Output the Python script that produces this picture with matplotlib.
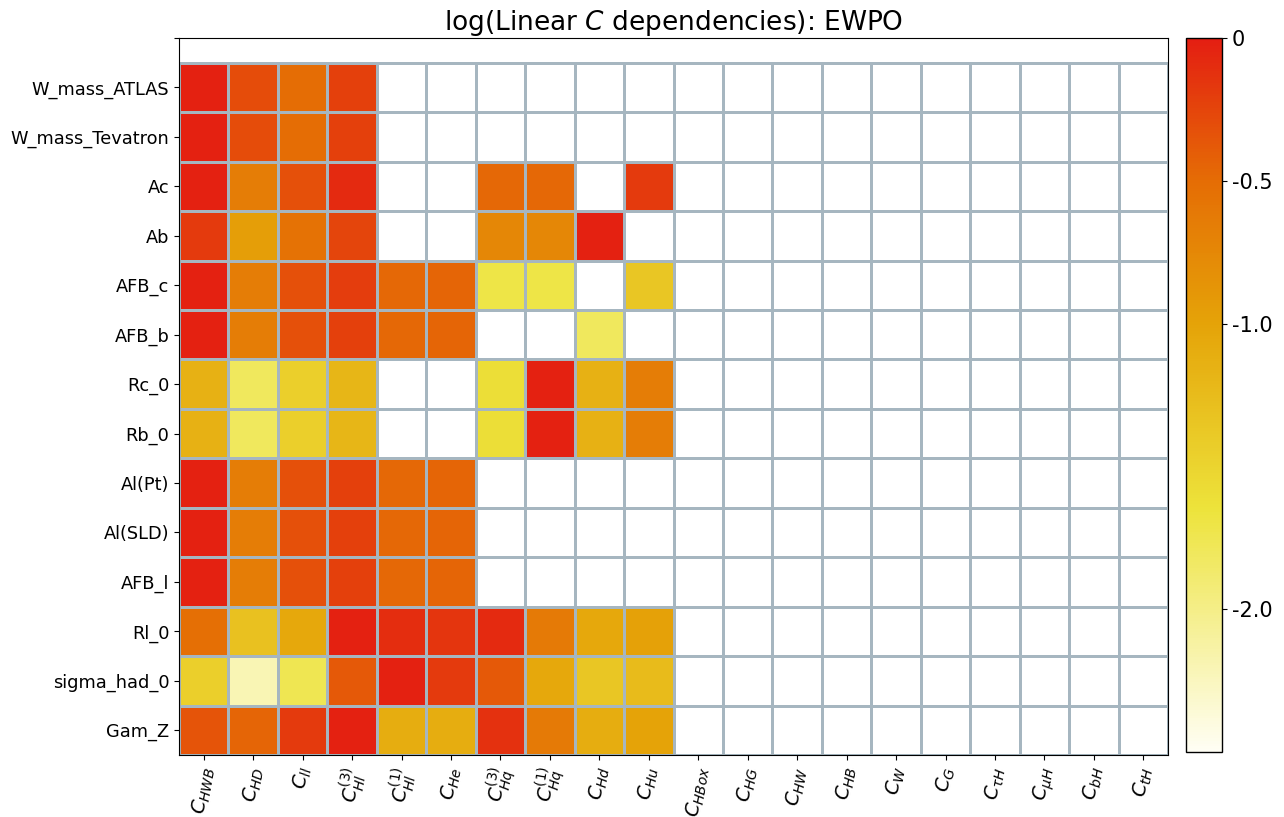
#!/usr/bin/python3

import numpy as np
import matplotlib
matplotlib.use('Agg')
import matplotlib.pyplot as plt
from matplotlib.colors import LinearSegmentedColormap

nan = np.nan

observables = ['W_mass_ATLAS', 'W_mass_Tevatron', 'Ac', 'Ab', 'AFB_c', 'AFB_b',
               'Rc_0', 'Rb_0', 'Al(Pt)', 'Al(SLD)', 'AFB_l', 'Rl_0',
               'sigma_had_0', 'Gam_Z']

coefficients = [r'$C_{HWB}$', r'$C_{HD}$', r'$C_{ll}$', r'$C_{Hl}^{(3)}$',
                r'$C_{Hl}^{(1)}$', r'$C_{He}$', r'$C_{Hq}^{(3)}$', r'$C_{Hq}^{(1)}$',
                r'$C_{Hd}$', r'$C_{Hu}$', r'$C_{HBox}$', r'$C_{HG}$', r'$C_{HW}$',
                r'$C_{HB}$', r'$C_{W}$', r'$C_{G}$', r'$C_{\tau H}$', r'$C_{\mu H}$',
                r'$C_{bH}$', r'$C_{tH}$']

# log10 of linear dependencies, only first 10 coefficients contribute
w_atlas = [-0.02, -0.30, -0.50, -0.22, nan, nan, nan, nan, nan, nan]
w_tevatron = [-0.02, -0.30, -0.50, -0.22, nan, nan, nan, nan, nan, nan]
ac = [-0.02, -0.65, -0.32, -0.08, nan, nan, -0.47, -0.47, nan, -0.18]
ab = [-0.18, -0.95, -0.55, -0.25, nan, nan, -0.75, -0.75, -0.02, nan]
afb_c = [-0.02, -0.65, -0.32, -0.20, -0.47, -0.45, -1.70, -1.70, nan, -1.35]
afb_b = [-0.02, -0.65, -0.32, -0.22, -0.47, -0.45, nan, nan, -1.80, nan]
rc_0 = [-1.15, -1.80, -1.45, -1.20, nan, nan, -1.60, -0.02, -1.15, -0.65]
rb_0 = [-1.15, -1.80, -1.45, -1.20, nan, nan, -1.60, -0.02, -1.15, -0.65]
al_pt = [-0.02, -0.65, -0.32, -0.22, -0.47, -0.45, nan, nan, nan, nan]
al_sld = [-0.02, -0.65, -0.32, -0.22, -0.47, -0.45, nan, nan, nan, nan]
afb_l = [-0.02, -0.65, -0.32, -0.22, -0.47, -0.45, nan, nan, nan, nan]
rl_0 = [-0.52, -1.30, -1.05, -0.02, -0.10, -0.15, -0.08, -0.62, -1.05, -0.98]
sigma_had_0 = [-1.45, -2.20, -1.75, -0.38, -0.02, -0.18, -0.38, -1.05, -1.35, -1.25]
gam_z = [-0.35, -0.45, -0.18, -0.02, -1.10, -1.10, -0.12, -0.62, -1.10, -1.00]

rows = [w_atlas, w_tevatron, ac, ab, afb_c, afb_b, rc_0, rb_0, al_pt, al_sld,
        afb_l, rl_0, sigma_had_0, gam_z]

cbar_ticks = [0, -0.5, -1.0, -2.0]
cbar_labels = ['0', '-0.5', '-1.0', '-2.0']


def main():
	n_rows = len(observables)
	n_cols = len(coefficients)

	data = np.full((n_rows, n_cols), np.nan)
	for i, r in enumerate(rows):
		data[i, :len(r)] = r
	data = np.ma.masked_invalid(data)

	cmap = LinearSegmentedColormap.from_list('ewpo', [
		(0.0, '#fffef4'),
		(0.34, '#ede33b'),
		(0.6, '#e5a308'),
		(0.8, '#e56d05'),
		(1.0, '#e41e12')])
	cmap.set_bad('white')

	fig = plt.figure(figsize=(12.84, 8.17), dpi=100)
	ax = fig.add_axes([0.1394, 0.0759, 0.7703, 0.8776])
	cax = fig.add_axes([0.9237, 0.0796, 0.028, 0.874])

	mesh = ax.pcolormesh(np.arange(n_cols + 1), np.arange(n_rows + 1), data,
	                     cmap=cmap, vmin=-2.5, vmax=0,
	                     edgecolors='#a6b6c0', linewidth=0.85)

	ax.set_xlim(0, n_cols)
	ax.set_ylim(n_rows, -0.5)

	ax.set_xticks(np.arange(n_cols) + 0.5)
	ax.set_xticklabels(coefficients, rotation=80, fontsize=14)
	ax.set_yticks([-0.5] + list(np.arange(n_rows) + 0.5))
	ax.set_yticklabels([''] + observables, fontsize=12.8)

	ax.set_title('log(Linear $C$ dependencies): EWPO', fontsize=19)

	cb = fig.colorbar(mesh, cax=cax)
	cb.set_ticks(cbar_ticks)
	cb.set_ticklabels(cbar_labels)
	cb.ax.tick_params(labelsize=15)
	cb.outline.set_linewidth(1.0)

	plt.savefig('out.png', dpi=100)
	plt.close()

	return


if __name__ == '__main__':
	main()
